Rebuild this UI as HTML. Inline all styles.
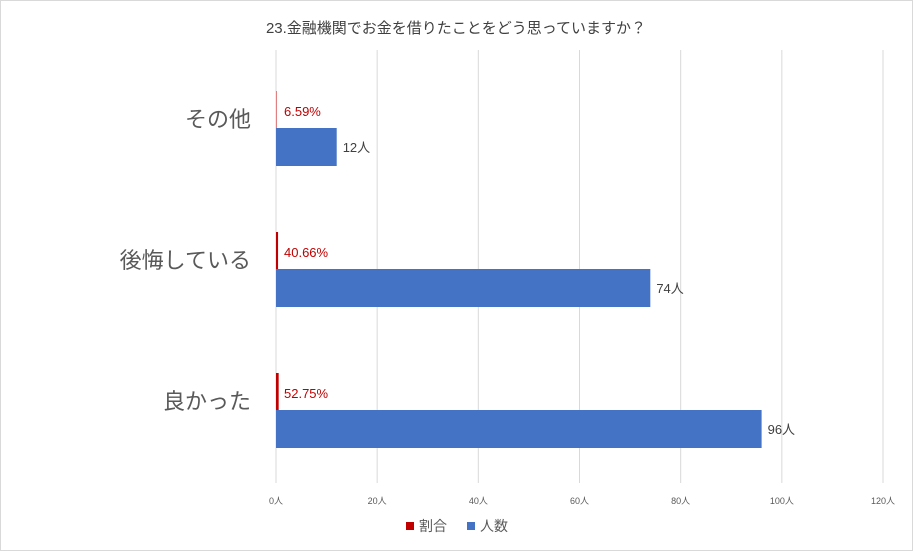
<!DOCTYPE html>
<html><head><meta charset="utf-8"><style>
body{margin:0;background:#fff;font-family:"Liberation Sans","Noto Sans CJK JP",sans-serif}
#c{position:relative;width:911px;height:549px;border:1px solid #d9d9d9;overflow:hidden}
</style></head><body>
<div id="c">
<svg id="s" width="911" height="549"></svg>
</div>
<script>
const categories=["その他","後悔している","良かった"];
const counts=[12,74,96];
const ratios=[6.59,40.66,52.75];
const ticks=[0,20,40,60,80,100,120];
const NS="http://www.w3.org/2000/svg";
const s=document.getElementById('s');
const x0=275,xMax=882,vmax=120;
const X=v=>x0+(v/vmax)*(xMax-x0);
const centers=[127,268,409];
function el(t,a,txt){const e=document.createElementNS(NS,t);for(const k in a)e.setAttribute(k,a[k]);if(txt!==undefined)e.textContent=txt;s.appendChild(e);return e;}
const title=el('text',{x:455,y:32,'text-anchor':'middle','font-size':15,fill:'#404040'},"23.金融機関でお金を借りたことをどう思っていますか？");


ticks.forEach(t=>{
 const g=el('line',{x1:X(t),x2:X(t),y1:49,y2:482,stroke:'#d9d9d9','stroke-width':1});
 
 
 const l=el('text',{x:X(t),y:503,'text-anchor':'middle','font-size':9,fill:'#595959'},t+"人");
 
 
});
categories.forEach((c,i)=>{
 const cy=centers[i];
 const cl=el('text',{x:250,y:cy-1,'text-anchor':'end','font-size':22,fill:'#595959'},c);
 
 
 const rw=Math.max(0.5,X(ratios[i]/100)-x0);
 const rb=el('rect',{x:x0,y:cy-37,width:rw,height:37,fill:'#c00000'});
 
 
 const rl=el('text',{x:x0+8,y:cy-12,'font-size':13,fill:'#c00000'},ratios[i].toFixed(2)+"%");
 
 
 const bb=el('rect',{x:x0,y:cy,width:X(counts[i])-x0,height:38,fill:'#4472c4'});
 
 
 const bl=el('text',{x:X(counts[i])+6,y:cy+24,'font-size':13,fill:'#404040'},counts[i]+"人");
 
 
});
const lr=el('rect',{x:405,y:521,width:8,height:8,fill:'#c00000'});


const lrt=el('text',{x:418,y:530,'font-size':14,fill:'#595959'},"割合");


const lb=el('rect',{x:466,y:521,width:8,height:8,fill:'#4472c4'});


const lbt=el('text',{x:479,y:530,'font-size':14,fill:'#595959'},"人数");


</script>
</body></html>
